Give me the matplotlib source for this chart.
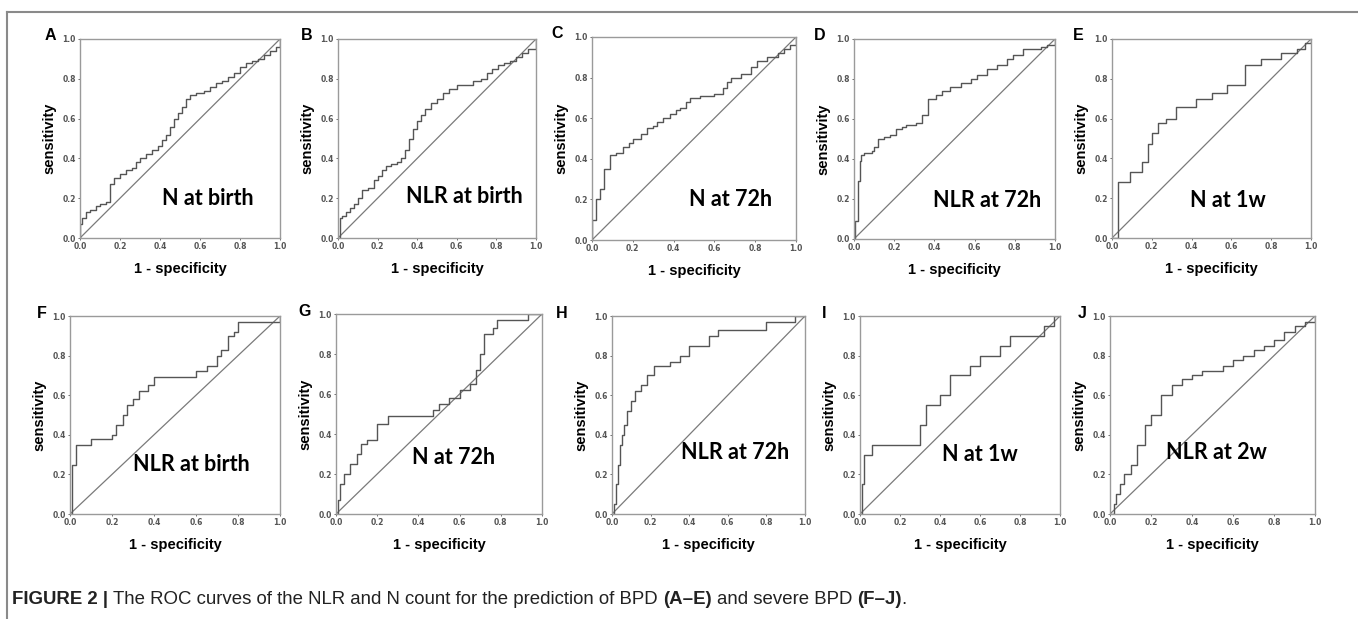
import matplotlib
matplotlib.use("Agg")
import matplotlib.pyplot as plt
import numpy as np

# ROC curve corner points (1 - specificity, sensitivity)
a_fpr = [0, 0, 0.01, 0.03, 0.05, 0.08, 0.1, 0.13, 0.15, 0.17, 0.2, 0.23, 0.26, 0.28, 0.3, 0.33, 0.36, 0.39, 0.41, 0.43,
         0.45, 0.47, 0.49, 0.51, 0.53, 0.55, 0.58, 0.62, 0.65, 0.68, 0.71, 0.74, 0.77, 0.8, 0.83, 0.86, 0.89, 0.92, 0.95, 0.98, 1.0, 1.0]
a_tpr = [0, 0.07, 0.1, 0.13, 0.14, 0.16, 0.17, 0.18, 0.27, 0.3, 0.32, 0.34, 0.35, 0.38, 0.4, 0.42, 0.44, 0.46, 0.49, 0.52,
         0.56, 0.6, 0.63, 0.66, 0.7, 0.72, 0.73, 0.74, 0.76, 0.78, 0.79, 0.81, 0.83, 0.86, 0.88, 0.89, 0.9, 0.92, 0.94, 0.96, 0.97, 1.0]

b_fpr = [0, 0.01, 0.02, 0.04, 0.06, 0.08, 0.1, 0.12, 0.15, 0.18, 0.2, 0.22, 0.24, 0.27, 0.3, 0.32, 0.34, 0.36, 0.38, 0.4,
         0.42, 0.44, 0.47, 0.5, 0.53, 0.56, 0.6, 0.64, 0.68, 0.72, 0.75, 0.78, 0.81, 0.84, 0.87, 0.9, 0.93, 0.96, 1.0, 1.0]
b_tpr = [0, 0.1, 0.11, 0.13, 0.15, 0.17, 0.2, 0.24, 0.25, 0.29, 0.31, 0.34, 0.36, 0.37, 0.38, 0.4, 0.44, 0.5, 0.55, 0.59,
         0.62, 0.65, 0.68, 0.7, 0.73, 0.75, 0.77, 0.77, 0.79, 0.8, 0.83, 0.85, 0.87, 0.88, 0.89, 0.91, 0.93, 0.95, 0.97, 1.0]

c_fpr = [0, 0, 0.02, 0.04, 0.06, 0.06, 0.09, 0.09, 0.12, 0.15, 0.18, 0.2, 0.24, 0.27, 0.3, 0.32, 0.35, 0.38, 0.41, 0.43,
         0.46, 0.48, 0.53, 0.6, 0.64, 0.66, 0.68, 0.73, 0.78, 0.81, 0.86, 0.91, 0.94, 0.97, 1.0, 1.0]
c_tpr = [0, 0.1, 0.2, 0.25, 0.28, 0.35, 0.37, 0.42, 0.43, 0.46, 0.48, 0.5, 0.52, 0.55, 0.56, 0.58, 0.6, 0.62, 0.64, 0.65,
         0.68, 0.7, 0.71, 0.72, 0.75, 0.78, 0.8, 0.82, 0.85, 0.88, 0.9, 0.92, 0.94, 0.96, 0.98, 1.0]

d_fpr = [0, 0.005, 0.02, 0.02, 0.03, 0.035, 0.05, 0.09, 0.1, 0.12, 0.15, 0.18, 0.21, 0.24, 0.26, 0.31, 0.34, 0.37, 0.41, 0.44,
         0.48, 0.53, 0.58, 0.61, 0.66, 0.71, 0.76, 0.79, 0.84, 0.93, 0.96, 1.0]
d_tpr = [0, 0.09, 0.1, 0.29, 0.39, 0.42, 0.43, 0.44, 0.46, 0.5, 0.51, 0.52, 0.55, 0.56, 0.57, 0.58, 0.62, 0.7, 0.72, 0.74,
         0.76, 0.78, 0.8, 0.82, 0.85, 0.87, 0.9, 0.92, 0.95, 0.96, 0.97, 1.0]

e_fpr = [0, 0.03, 0.09, 0.15, 0.18, 0.2, 0.23, 0.27, 0.32, 0.42, 0.5, 0.58, 0.67, 0.75, 0.85, 0.93, 0.97, 1.0]
e_tpr = [0, 0.28, 0.33, 0.38, 0.47, 0.53, 0.58, 0.6, 0.66, 0.7, 0.73, 0.77, 0.87, 0.9, 0.93, 0.95, 0.98, 1.0]

f_fpr = [0, 0.01, 0.03, 0.1, 0.2, 0.22, 0.25, 0.27, 0.3, 0.33, 0.37, 0.4, 0.55, 0.6, 0.65, 0.7, 0.72, 0.75, 0.78, 0.8, 1.0]
f_tpr = [0, 0.25, 0.35, 0.38, 0.4, 0.45, 0.5, 0.55, 0.58, 0.62, 0.65, 0.69, 0.69, 0.72, 0.75, 0.8, 0.83, 0.9, 0.92, 0.97, 1.0]

g_fpr = [0, 0.01, 0.02, 0.04, 0.07, 0.1, 0.12, 0.15, 0.2, 0.25, 0.45, 0.47, 0.5, 0.55, 0.6, 0.65, 0.68, 0.7, 0.72, 0.76,
         0.78, 0.93, 1.0]
g_tpr = [0, 0.07, 0.15, 0.2, 0.25, 0.3, 0.35, 0.37, 0.45, 0.49, 0.49, 0.52, 0.55, 0.58, 0.62, 0.65, 0.72, 0.8, 0.9, 0.93,
         0.97, 1.0, 1.0]

h_fpr = [0, 0.01, 0.02, 0.03, 0.04, 0.05, 0.06, 0.08, 0.1, 0.12, 0.15, 0.18, 0.22, 0.3, 0.35, 0.4, 0.5, 0.55, 0.8, 0.95, 1.0]
h_tpr = [0, 0.05, 0.15, 0.25, 0.35, 0.4, 0.45, 0.52, 0.57, 0.62, 0.65, 0.7, 0.75, 0.77, 0.8, 0.85, 0.9, 0.93, 0.97, 1.0, 1.0]

i_fpr = [0, 0.01, 0.02, 0.06, 0.3, 0.33, 0.4, 0.45, 0.55, 0.6, 0.7, 0.75, 0.92, 0.97, 1.0]
i_tpr = [0, 0.15, 0.3, 0.35, 0.45, 0.55, 0.6, 0.7, 0.75, 0.8, 0.85, 0.9, 0.95, 1.0, 1.0]

j_fpr = [0, 0.02, 0.03, 0.05, 0.07, 0.1, 0.13, 0.17, 0.2, 0.25, 0.3, 0.35, 0.4, 0.45, 0.55, 0.6, 0.65, 0.7, 0.75, 0.8,
         0.85, 0.9, 0.95, 1.0]
j_tpr = [0, 0.05, 0.1, 0.15, 0.2, 0.25, 0.35, 0.45, 0.5, 0.6, 0.65, 0.68, 0.7, 0.72, 0.75, 0.78, 0.8, 0.83, 0.85, 0.88,
         0.92, 0.95, 0.97, 1.0]

letters = ["A", "B", "C", "D", "E", "F", "G", "H", "I", "J"]
names = ["N at birth", "NLR at birth", "N at 72h", "NLR at 72h", "N at 1w",
         "NLR at birth", "N at 72h", "NLR at 72h", "N at 1w", "NLR at 2w"]
curves = [(a_fpr, a_tpr), (b_fpr, b_tpr), (c_fpr, c_tpr), (d_fpr, d_tpr), (e_fpr, e_tpr),
          (f_fpr, f_tpr), (g_fpr, g_tpr), (h_fpr, h_tpr), (i_fpr, i_tpr), (j_fpr, j_tpr)]
ticks = [0.0, 0.2, 0.4, 0.6, 0.8, 1.0]

W, H = 1358, 619
fig = plt.figure(figsize=(W / 100, H / 100), dpi=100)

# panel boxes in pixels: left, top, right, bottom
boxes = [(80, 39, 280, 238), (338, 39, 536, 238), (592, 37, 796, 240), (854, 39, 1055, 239), (1112, 39, 1311, 238),
         (70, 316, 280, 514), (336, 314, 542, 514), (612, 316, 805, 514), (860, 316, 1060, 514), (1110, 316, 1315, 514)]
letter_x = [50, 307, 557, 820, 1078, 42, 305, 562, 824, 1082]
name_pos = [(0.64, 0.2), (0.64, 0.21), (0.68, 0.2), (0.66, 0.19), (0.58, 0.19),
            (0.58, 0.25), (0.57, 0.28), (0.64, 0.31), (0.6, 0.3), (0.52, 0.31)]

for k in range(10):
    x0, y0, x1, y1 = boxes[k]
    ax = fig.add_axes([x0 / W, 1 - y1 / H, (x1 - x0) / W, (y1 - y0) / H])
    fpr, tpr = curves[k]
    ax.plot([0, 1], [0, 1], color="#7a7a7a", lw=0.9)
    ax.plot(fpr, tpr, color="#555555", lw=1.0, drawstyle="steps-post")
    ax.set_xlim(0, 1)
    ax.set_ylim(0, 1)
    ax.set_xticks(ticks)
    ax.set_yticks(ticks)
    ax.set_xticklabels([f"{t:.1f}" for t in ticks])
    ax.set_yticklabels([f"{t:.1f}" for t in ticks])
    ax.tick_params(labelsize=5.5, colors="#555555", length=1.5, width=0.6, pad=1.5)
    for lab in ax.get_xticklabels() + ax.get_yticklabels():
        lab.set_fontweight("bold")
    for s in ax.spines.values():
        s.set_color("#9a9a9a")
        s.set_linewidth(1.0)
    ax.set_xlabel("1 - specificity", fontsize=10.5, fontweight="bold", family="Liberation Sans", labelpad=8)
    ax.set_ylabel("sensitivity", fontsize=10.5, fontweight="bold", family="Liberation Sans", labelpad=4)
    ax.text(name_pos[k][0], name_pos[k][1], names[k], transform=ax.transAxes, ha="center", va="center",
            fontsize=15.5, fontweight="bold", family="Lato")
    fig.text(letter_x[k] / W, 1 - (y0 - 3) / H, letters[k], ha="center", va="center",
             fontsize=11.5, fontweight="bold", family="Liberation Sans")

# outer frame lines (top and left)
fig.add_artist(plt.Line2D([7 / W, 1], [1 - 12 / H, 1 - 12 / H], color="#8a8a8a", lw=1.5))
fig.add_artist(plt.Line2D([7 / W, 7 / W], [0, 1 - 12 / H], color="#8a8a8a", lw=1.5))

# caption with bold and regular parts
cap_parts = [("FIGURE 2 |", "bold"), ("The ROC curves of the NLR and N count for the prediction of BPD", "normal"),
             ("(A\u2013E)", "bold"), ("and severe BPD", "normal"), ("(F\u2013J)", "bold"), (".", "normal")]
cap_family = ["Liberation Sans Narrow", "Liberation Sans"]
cap_size = 13.4
renderer = fig.canvas.get_renderer()
probe1 = fig.text(0, 0, "x x", fontsize=cap_size, family=cap_family)
probe2 = fig.text(0, 0, "xx", fontsize=cap_size, family=cap_family)
space = (probe1.get_window_extent(renderer).width - probe2.get_window_extent(renderer).width)
probe1.remove()
probe2.remove()
xpos = 12
for idx, (txt, wt) in enumerate(cap_parts):
    t = fig.text(xpos / W, 1 - 600 / H, txt, fontsize=cap_size, fontweight=wt, family=cap_family,
                 ha="left", va="center", color="#222222")
    w = t.get_window_extent(renderer).width
    xpos += w
    if idx + 1 < len(cap_parts) and cap_parts[idx + 1][0] != ".":
        xpos += space

fig.savefig("out.png", dpi=100)
